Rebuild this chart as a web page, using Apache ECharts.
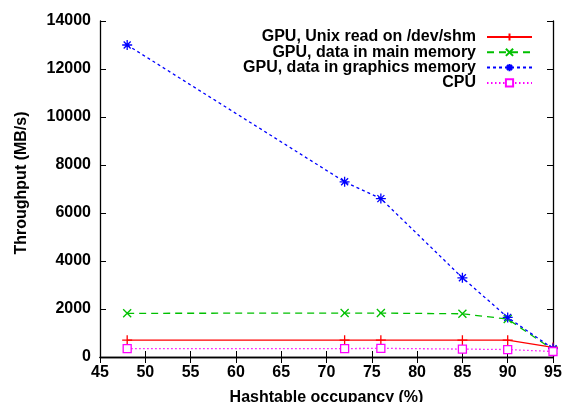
<!DOCTYPE html>
<html><head><meta charset="utf-8">
<script src="https://cdn.jsdelivr.net/npm/echarts@6/dist/echarts.min.js"></script>
<style>html,body{margin:0;padding:0;background:#fff}#c{width:567px;height:402px}</style>
</head><body><div id="c"></div>
<script>
const occupancy = [48, 72, 76, 85, 90, 95];
const gpuUnix = [700, 700, 700, 700, 700, 400];
const gpuMain = [1820, 1830, 1830, 1800, 1580, 300];
const gpuGraphics = [13000, 7300, 6600, 3300, 1650, 350];
const cpu = [350, 350, 360, 330, 310, 230];
const names = ['GPU, Unix read on /dev/shm','GPU, data in main memory','GPU, data in graphics memory','CPU'];

const font = 'Liberation Sans, Arial, sans-serif';
const plus = 'path://M0,5L10,5M5,0L5,10';
const cross = 'path://M0,0L10,10M0,10L10,0';
const star = 'path://M0,5L10,5M5,0L5,10M1.5,1.5L8.5,8.5M1.5,8.5L8.5,1.5';
function pts(v){ return occupancy.map((x,i)=>[x,v[i]]); }
function mk(name, data, color, ltype, symbol, size, fill){
  return {name, type:'line', data:pts(data), symbol, symbolSize:size,
    lineStyle:{color, width:1.3, type:ltype},
    itemStyle:{color: fill||color, borderColor:color, borderWidth:1.3},
    emphasis:{disabled:true}, z: 2};
}
const chart = echarts.init(document.getElementById('c'));
const axisLine = {show:true, lineStyle:{color:'#000', width:1.3}};
const lbl = {fontFamily:font, fontWeight:'bold', fontSize:16, color:'#000'};
chart.setOption({
  animation:false,
  grid:{left:100, right:14, top:21, bottom:45, outerBoundsMode:'none', containLabel:false},
  legend:{orient:'vertical', right:29, top:24, align:'right', itemWidth:45, itemHeight:9, itemGap:-0.7,
    textStyle:Object.assign({lineHeight:14, padding:[0,6,0,0]}, lbl),
    data:names},
  xAxis:[{type:'value', min:45, max:95, interval:5, position:'bottom',
    axisLine, axisTick:{inside:true, length:6, lineStyle:{color:'#000'}}, splitLine:{show:false},
    axisLabel:Object.assign({margin:8}, lbl),
    name:'Hashtable occupancy (%)', nameLocation:'middle', nameGap:33,
    nameTextStyle:lbl},
   {type:'value', min:45, max:95, interval:5, position:'top',
    axisLine, axisTick:{inside:true, length:6, lineStyle:{color:'#000'}}, splitLine:{show:false}, axisLabel:{show:false}}],
  yAxis:[{type:'value', min:0, max:14000, interval:2000, position:'left',
    axisLine, axisTick:{inside:true, length:6, lineStyle:{color:'#000'}}, splitLine:{show:false},
    axisLabel:Object.assign({margin:9, formatter:v=>String(v)}, lbl),
    name:'Throughput (MB/s)', nameLocation:'middle', nameGap:70, nameRotate:90,
    nameTextStyle:Object.assign({padding:[0,0,0,12]}, lbl)},
   {type:'value', min:0, max:14000, interval:2000, position:'right',
    axisLine, axisTick:{inside:true, length:6, lineStyle:{color:'#000'}}, splitLine:{show:false}, axisLabel:{show:false}}],
  series:[
    mk(names[0], gpuUnix, '#ff0000', 'solid', plus, 10),
    mk(names[1], gpuMain, '#00c000', [7,5], cross, 8),
    mk(names[2], gpuGraphics, '#0000ff', [3,3], star, 10),
    mk(names[3], cpu, '#ff00ff', [1.5,2.5], 'rect', 8, '#fff')
  ]
});
</script></body></html>
